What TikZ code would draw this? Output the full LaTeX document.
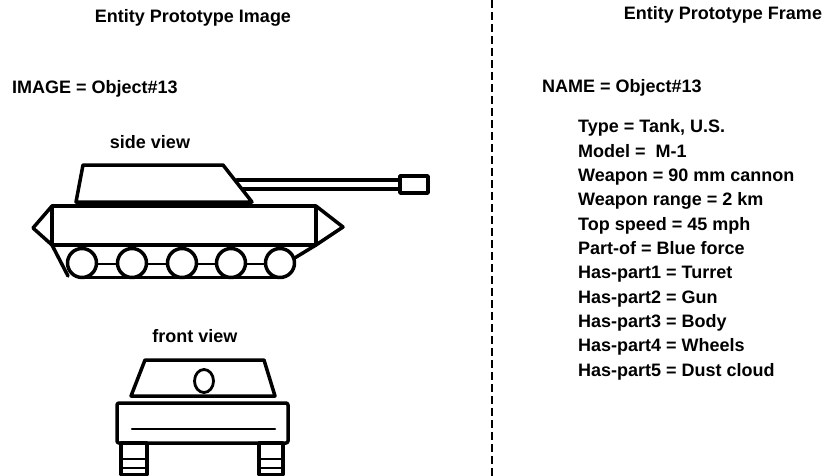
\documentclass[tikz,border=0pt]{standalone}
\usepackage{fontspec}
\setmainfont{Liberation Sans}
\begin{document}
\begin{tikzpicture}[x=1pt,y=-1pt,
  lbl/.style={inner sep=0pt, font=\fontsize{18}{22}\selectfont\bfseries},
  thick line/.style={line width=3.5pt, line join=round, line cap=round},
  thin line/.style={line width=2.4pt, line cap=round}]
\useasboundingbox (0,0) rectangle (827,476);
\fill[white] (0,0) rectangle (827,476);
% titles
\node[lbl, anchor=base] (t1) at (193,23) {Entity Prototype Image};
\node[lbl, anchor=base] (t2) at (723,20) {Entity Prototype Frame};
% divider
\coordinate (d1) at (492,0);
\coordinate (d2) at (492,476);
\draw[line width=1.3pt, dash pattern=on 8pt off 4pt] (d1) -- (d2);
% left texts
\node[lbl, anchor=base west] (img) at (12,94) {IMAGE = Object\#13};
\node[lbl, anchor=base] (sv) at (150,149) {side view};
\node[lbl, anchor=base] (fv) at (195,342) {front view};
% right texts
\node[lbl, anchor=base west] (nm) at (542,93) {NAME = Object\#13};
\foreach \t [count=\i from 0] in {{Type = Tank, U.S.},{Model =\ \ M-1},{Weapon = 90 mm cannon},{Weapon range = 2 km},{Top speed = 45 mph},{Part-of = Blue force},{Has-part1 = Turret},{Has-part2 = Gun},{Has-part3 = Body},{Has-part4 = Wheels},{Has-part5 = Dust cloud}}
  \node[lbl, anchor=base west] (a\i) at (578,133+\i*24.3) {\t};
% side view tank
\draw[thick line] (83,165) -- (223,165) -- (252,202) -- (76,202) -- cycle;
\draw[thick line] (237,180) -- (400,180);
\draw[thick line] (243,189) -- (400,189);
\draw[thick line] (400,176) rectangle (428,193);
\draw[thick line] (52,206) rectangle (316,245);
\draw[thick line] (52,206) -- (33,228) -- (52,245) -- (68,276);
\draw[thick line] (316,206) -- (343,227) -- (316,245) -- (293,259);
\draw[thin line] (82,264) -- (280,264);
\draw[thick line] (82,277.5) -- (280,277.5);
\foreach \x in {82,132,182,231,280}
  \draw[thick line, fill=white] (\x,263) circle[radius=14.5];
% front view tank
\draw[thick line] (145,360) -- (264,360) -- (275,396) -- (131,396) -- cycle;
\draw[line width=2.8pt] (204,381) ellipse[x radius=9.5, y radius=11.5];
\draw[thick line, rounded corners=2pt] (117,403) rectangle (288,443);
\draw[thin line] (132,429) -- (275,429);
\draw[thick line] (121,443) rectangle (147,474.5);
\draw[thick line] (259,443) rectangle (283,474.5);
\draw[thin line] (121,459) -- (147,459) (121,468) -- (147,468);
\draw[thin line] (259,459) -- (283,459) (259,468) -- (283,468);
\end{tikzpicture}
\end{document}
